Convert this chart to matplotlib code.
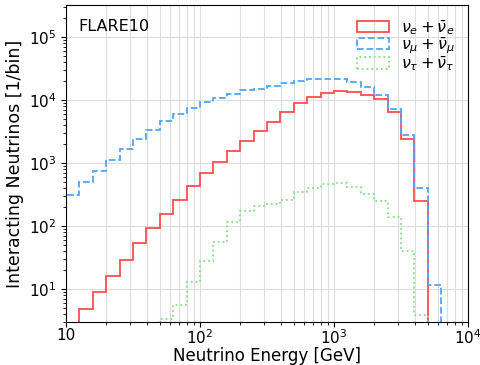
"""Interacting neutrino spectra at FLARE10, per flavour."""

import numpy as np
import matplotlib
matplotlib.use("Agg")
import matplotlib.pyplot as plt

# Data (10 log bins per decade, 10 GeV to 10 TeV)

bin_edges = np.logspace(1, 4, 31)

nu_e = [
    0, 4.8, 9.1, 16.1, 28.8, 52.9, 93, 155, 262, 431,
    700, 1048, 1541, 2222, 3162, 4500, 6400, 8800, 11100, 13000,
    13900, 13500, 12100, 10300, 6450, 2400, 250, 0, 0, 0,
]
nu_mu = [
    307, 493, 745, 1111, 1660, 2390, 3320, 4550, 5940, 7500,
    9200, 10640, 12500, 14230, 15100, 16900, 18600, 20300, 21800, 21600,
    21400, 19500, 15900, 12000, 7300, 2750, 396, 11.6, 0, 0,
]
nu_tau = [
    0, 0, 0, 0, 0, 0, 0, 3.3, 5.6, 12.9,
    28.3, 54.8, 115, 176, 211, 221, 259, 343, 406, 458,
    481, 416, 327, 250, 138, 40, 3.8, 0, 0, 0,
]

# Figure

fig = plt.figure(figsize=(4.81, 3.65), dpi=100)
ax = fig.add_axes([0.137, 0.118, 0.836, 0.868])

bin_centers = np.sqrt(bin_edges[:-1] * bin_edges[1:])
ax.hist(bin_centers, bins=bin_edges, weights=nu_e, histtype="step",
        color="#ff4d4d", lw=1.3, label=r"$\nu_e + \bar{\nu}_e$")
ax.hist(bin_centers, bins=bin_edges, weights=nu_mu, histtype="step",
        color="#4da6ff", lw=1.3, ls="--", label=r"$\nu_\mu + \bar{\nu}_\mu$")
ax.hist(bin_centers, bins=bin_edges, weights=nu_tau, histtype="step",
        color="#88dd88", lw=1.3, ls=":", label=r"$\nu_\tau + \bar{\nu}_\tau$")

ax.set_xscale("log")
ax.set_yscale("log")
ax.set_xlim(10, 1e4)
ax.set_ylim(3, 3.2e5)
ax.set_xticks([10, 100, 1000, 10000])
ax.set_xticklabels(["10", "$10^2$", "$10^3$", "$10^4$"])
ax.tick_params(labelsize=11)
ax.tick_params(axis="x", pad=1)

ax.grid(which="both", axis="x", color="#dddddd", lw=0.8)
ax.grid(which="major", axis="y", color="#dddddd", lw=0.8)
ax.set_axisbelow(True)

ax.set_xlabel("Neutrino Energy [GeV]", fontsize=12, labelpad=0)
ax.set_ylabel("Interacting Neutrinos [1/bin]", fontsize=12.5, labelpad=3)
ax.text(0.03, 0.955, "FLARE10", transform=ax.transAxes, fontsize=11.5,
        va="top", ha="left")
ax.legend(loc="upper right", frameon=False, fontsize=11.5, labelspacing=-0.1,
          handlelength=2.0, borderaxespad=0.4)

fig.savefig("out.png", dpi=100)
